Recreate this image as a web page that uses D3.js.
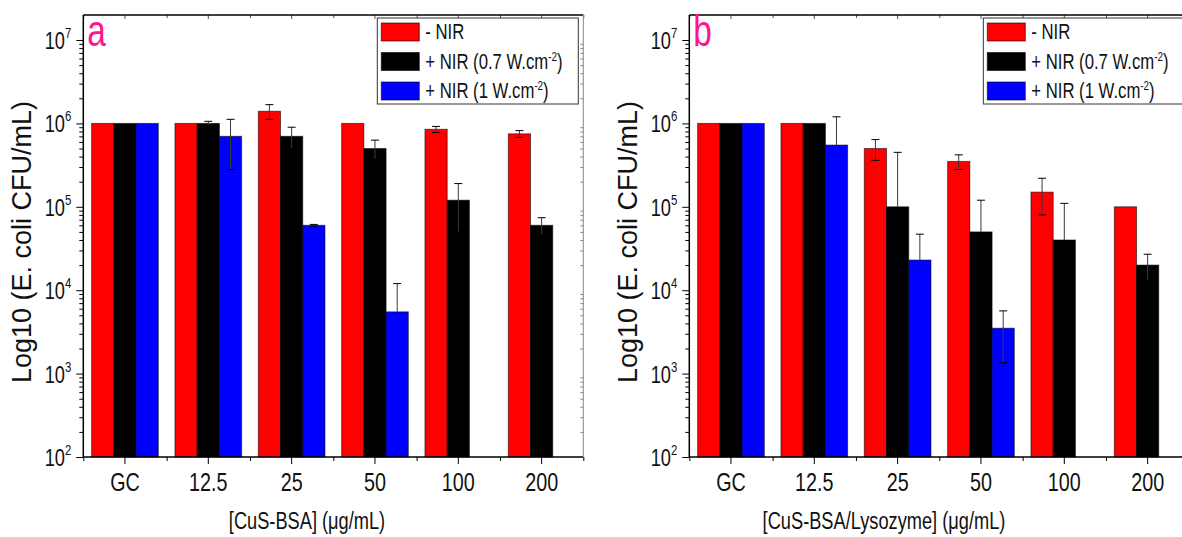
<!DOCTYPE html>
<html><head><meta charset="utf-8">
<script src="https://cdn.jsdelivr.net/npm/d3@7"></script>
<style>body{margin:0;background:#fff;overflow:hidden} svg{display:block}</style>
</head><body><svg id="c" width="1182" height="537"></svg>
<script>
// ---- data ----
const categories = ["GC", "12.5", "25", "50", "100", "200"];
const seriesNames = ["- NIR", "+ NIR (0.7 W.cm", "+ NIR (1 W.cm"];
const seriesSup = ["", "-2", "-2"];
const seriesColors = ["#ff0000", "#000000", "#0000ff"];
const yTickExps = [2, 3, 4, 5, 6, 7];

// panel a : [CuS-BSA]
const a_noNIR   = [1e6, 1e6, 1.4e6, 1e6, 8.5e5, 7.5e5];
const a_noNIRe  = [0, 0, 2.8e5, 0, 7e4, 7e4];
const a_nir07   = [1e6, 1e6, 7e5, 5e5, 1.2e5, 6e4];
const a_nir07e  = [0, 6e4, 2e5, 1.3e5, 7e4, 1.4e4];
const a_nir1    = [1e6, 7e5, 6e4, 5.5e3, null, null];
const a_nir1e   = [0, 4.2e5, 1.5e3, 6.5e3, null, null];

// panel b : [CuS-BSA/Lysozyme]
const b_noNIR   = [1e6, 1e6, 5e5, 3.5e5, 1.5e5, 1e5];
const b_noNIRe  = [0, 0, 1.4e5, 7e4, 7e4, 0];
const b_nir07   = [1e6, 1e6, 1e5, 5e4, 4e4, 2e4];
const b_nir07e  = [0, 0, 3.5e5, 7e4, 7e4, 7e3];
const b_nir1    = [1e6, 5.5e5, 2.3e4, 3.5e3, null, null];
const b_nir1e   = [0, 6.5e5, 2.4e4, 2.15e3, null, null];

const FONT = "'Liberation Sans',Arial,sans-serif";
const SQ = 0.76; // horizontal squeeze to imitate a narrow face

const svg = d3.select("#c");

function narrowText(parent, x, y, anchor, size, fill) {
  return parent.append("g").attr("transform", `translate(${x},${y}) scale(${SQ},1)`)
    .append("text").attr("x", 0).attr("y", 0).attr("text-anchor", anchor)
    .style("font-family", FONT).style("font-size", size + "px").attr("fill", fill || "#111");
}

function drawPanel(o) {
  const g = svg.append("g");
  const x = d3.scaleBand().domain(categories).range([o.left, o.right]).paddingInner(0).paddingOuter(0);
  const bw = x.bandwidth();
  const x1 = d3.scaleBand().domain([0, 1, 2]).range([0.1 * bw, 0.9 * bw]).padding(0);
  const y = d3.scaleLog().domain([1e2, Math.pow(10, 7.3)]).range([o.bottom, o.top]);

  // bars
  o.series.forEach((vals, si) => {
    const rows = categories.map((c, i) => ({ c, v: vals[i], e: o.errs[si][i] })).filter(d => d.v != null);
    g.append("g").selectAll("rect").data(rows).join("rect")
      .attr("x", d => x(d.c) + x1(si))
      .attr("width", x1.bandwidth())
      .attr("y", d => y(d.v))
      .attr("height", d => y(1e2) - y(d.v))
      .attr("fill", seriesColors[si])
      .attr("stroke", "rgba(0,0,0,0.55)")
      .attr("stroke-width", 1);
  });
  // error bars
  o.series.forEach((vals, si) => {
    const rows = categories.map((c, i) => ({ c, v: vals[i], e: o.errs[si][i] })).filter(d => d.v != null && d.e > 0);
    const eg = g.append("g");
    rows.forEach(d => {
      const cx = x(d.c) + x1(si) + x1.bandwidth() / 2;
      const hi = d.v + d.e;
      const lo = d.v - d.e;
      const yLo = lo > 0 ? y(lo) : y(d.v);
      eg.append("line").attr("x1", cx).attr("x2", cx).attr("y1", y(hi)).attr("y2", yLo)
        .attr("stroke", "#3a3a3a").attr("stroke-width", 1);
      eg.append("line").attr("x1", cx - 4).attr("x2", cx + 4).attr("y1", y(hi)).attr("y2", y(hi))
        .attr("stroke", "#000").attr("stroke-width", 1);
      if (lo > 0) {
        eg.append("line").attr("x1", cx - 4).attr("x2", cx + 4).attr("y1", y(lo)).attr("y2", y(lo))
          .attr("stroke", "#000").attr("stroke-width", 1);
      }
    });
  });

  // left axis major + minor ticks
  const majors = yTickExps.map(e => Math.pow(10, e));
  const minors = [];
  for (let e = 2; e <= 7; e++) for (let k = 2; k <= 9; k++) { const v = k * Math.pow(10, e); if (v <= y.domain()[1]) minors.push(v); }
  const ax = g.append("g").attr("transform", `translate(${o.left},0)`);
  ax.call(d3.axisLeft(y).tickValues(majors).tickSize(7).tickFormat("").tickSizeOuter(0));
  ax.append("g").call(d3.axisLeft(y).tickValues(minors).tickSize(4).tickFormat("").tickSizeOuter(0));
  ax.selectAll("path.domain").remove();
  ax.selectAll("line").attr("stroke", "#000").attr("stroke-width", 1);
  // right axis (inward ticks)
  const rx = g.append("g").attr("transform", `translate(${o.right},0)`);
  rx.append("g").call(d3.axisLeft(y).tickValues(minors).tickSize(3).tickFormat("").tickSizeOuter(0));
  rx.selectAll("path.domain").remove();
  rx.selectAll("line").attr("stroke", "#888");

  // y tick labels with superscripts
  yTickExps.forEach(e => {
    const ty = y(Math.pow(10, e));
    const t = narrowText(g, o.left - 12, ty + 9, "end", 24);
    t.append("tspan").text("10");
    t.append("tspan").attr("dy", -11).style("font-size", "15px").text(String(e));
  });

  // bottom axis: major at centers, minor at boundaries
  const bx = g.append("g").attr("transform", `translate(0,${o.bottom})`);
  bx.call(d3.axisBottom(x).tickSize(7).tickFormat("").tickSizeOuter(0));
  const bounds = d3.range(categories.length + 1).map(i => o.left + i * bw);
  const xl = d3.scaleLinear().domain([o.left, o.right]).range([o.left, o.right]);
  bx.append("g").call(d3.axisBottom(xl).tickValues(bounds).tickSize(4).tickFormat("").tickSizeOuter(0));
  bx.selectAll("path.domain").remove();
  bx.selectAll("line").attr("stroke", "#000");
  categories.forEach(c => {
    narrowText(g, x(c) + bw / 2, o.bottom + 34, "middle", 26).text(c);
  });

  // top axis ticks
  const tx = g.append("g").attr("transform", `translate(0,${o.top})`);
  tx.call(d3.axisTop(x).tickSize(-4).tickFormat("").tickSizeOuter(0));
  tx.append("g").call(d3.axisTop(xl).tickValues(bounds).tickSize(-3).tickFormat("").tickSizeOuter(0));
  tx.selectAll("path.domain").remove();
  tx.selectAll("line").attr("stroke", "#555");

  // frame lines
  g.append("line").attr("x1", o.left).attr("x2", o.right).attr("y1", o.bottom).attr("y2", o.bottom).attr("stroke", "#000").attr("stroke-width", 1.5);
  g.append("line").attr("x1", o.left).attr("x2", o.right).attr("y1", o.top).attr("y2", o.top).attr("stroke", "#000").attr("stroke-width", 1.5);
  g.append("line").attr("x1", o.left).attr("x2", o.left).attr("y1", o.top).attr("y2", o.bottom).attr("stroke", "#000").attr("stroke-width", 1.5);
  g.append("line").attr("x1", o.right).attr("x2", o.right).attr("y1", o.top).attr("y2", o.bottom).attr("stroke", "#888").attr("stroke-width", 1);

  // legend
  const lx = o.left + 294, ly = 18;
  const lg = g.append("g");
  lg.append("rect").attr("x", lx).attr("y", ly).attr("width", 201).attr("height", 86)
    .attr("fill", "#fff").attr("stroke", "#333").attr("stroke-width", 1);
  seriesNames.forEach((n, i) => {
    const ry = ly + 5 + i * 29.5;
    lg.append("rect").attr("x", lx + 4).attr("y", ry).attr("width", 38).attr("height", 18)
      .attr("fill", seriesColors[i]).attr("stroke", "rgba(0,0,0,0.6)");
    const t = narrowText(lg, lx + 48, ry + 16, "start", 22);
    t.append("tspan").text(n);
    if (seriesSup[i]) {
      t.append("tspan").attr("dy", -8).style("font-size", "13px").text(seriesSup[i]);
      t.append("tspan").attr("dy", 8).text(")");
    }
  });

  // panel letter
  narrowText(g, o.left + 4, 46, "start", 44, "#ff1493").text(o.letter);

  // axis titles
  g.append("text").attr("transform", `translate(${o.yTitleX},${(o.top + o.bottom) / 2 + 6}) rotate(-90)`)
    .attr("text-anchor", "middle").style("font-family", FONT).style("font-size", "27px").attr("fill", "#111")
    .text("Log10 (E. coli CFU/mL)");
  narrowText(g, o.xTitleX, 529, "middle", 24).text(o.xTitle);
}

drawPanel({
  left: 83.3, right: 583.3, top: 15, bottom: 457, letter: "a",
  series: [a_noNIR, a_nir07, a_nir1], errs: [a_noNIRe, a_nir07e, a_nir1e],
  yTitleX: 31, xTitle: "[CuS-BSA] (\u03bcg/mL)", xTitleX: 307
});
drawPanel({
  left: 689.3, right: 1189.3, top: 15, bottom: 457, letter: "b",
  series: [b_noNIR, b_nir07, b_nir1], errs: [b_noNIRe, b_nir07e, b_nir1e],
  yTitleX: 637, xTitle: "[CuS-BSA/Lysozyme] (\u03bcg/mL)", xTitleX: 884
});
</script>
</body></html>
